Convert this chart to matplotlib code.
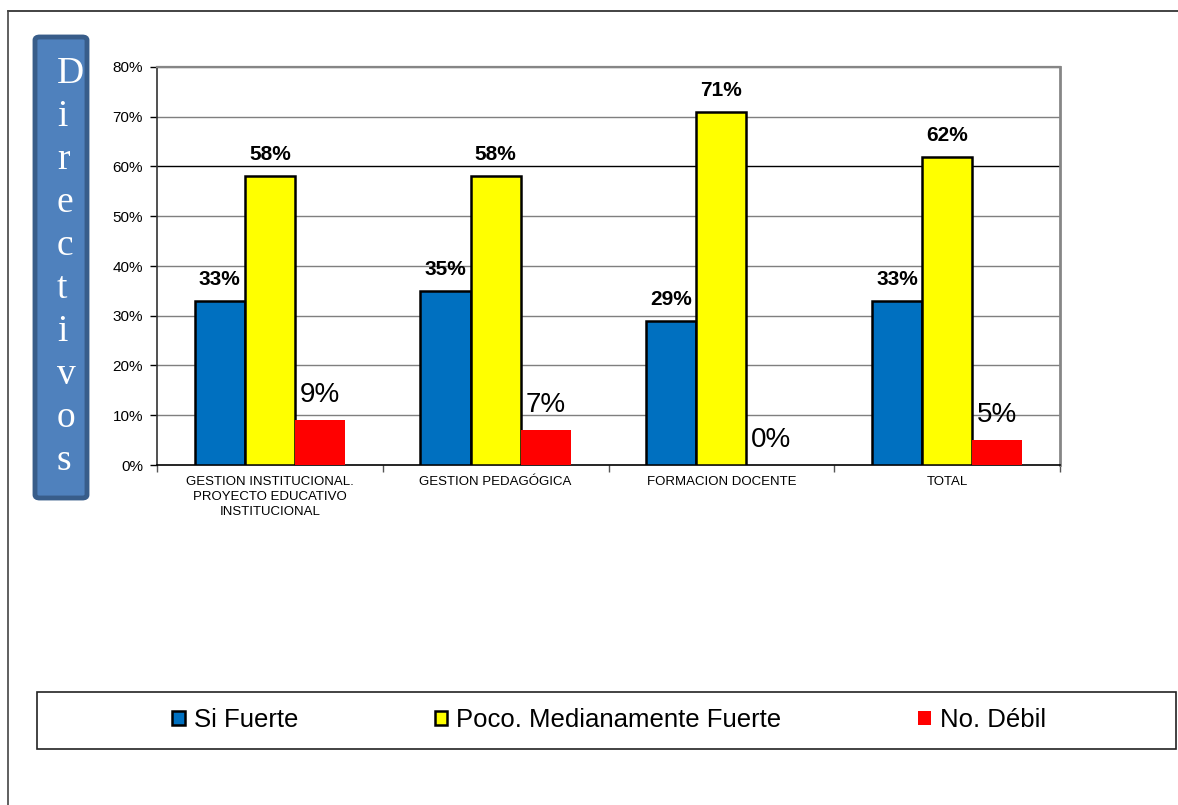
import matplotlib
matplotlib.use("Agg")
import matplotlib.pyplot as plt
from matplotlib.patches import Rectangle, FancyBboxPatch
from matplotlib.lines import Line2D
import numpy as np

categories = ["GESTION INSTITUCIONAL.\nPROYECTO EDUCATIVO\nINSTITUCIONAL",
              "GESTION PEDAGÓGICA", "FORMACION DOCENTE", "TOTAL"]
si_fuerte = [0.33, 0.35, 0.29, 0.33]
poco_medianamente = [0.58, 0.58, 0.71, 0.62]
no_debil = [0.09, 0.07, 0.00, 0.05]
series_names = ["Si Fuerte", "Poco. Medianamente Fuerte", "No. Débil"]
side_title = "Directivos"
y_ticks = [0.0, 0.1, 0.2, 0.3, 0.4, 0.5, 0.6, 0.7, 0.8]

plt.rcParams['font.family'] = ['Liberation Sans', 'DejaVu Sans']

W, H = 1178, 805
fig = plt.figure(figsize=(W / 100, H / 100), dpi=100)

def fx(px):
    return px / W

def fy(py):
    return 1 - py / H

ax = fig.add_axes([fx(157), fy(465), fx(1060) - fx(157), fy(67) - fy(465)])

x = np.arange(len(categories))
w = 0.222
colors = ["#0070C0", "#FFFF00", "#FF0000"]
b1 = ax.bar(x - w, si_fuerte, w, color=colors[0], edgecolor="black", linewidth=1.8,
            label=series_names[0], zorder=3)
b2 = ax.bar(x, poco_medianamente, w, color=colors[1], edgecolor="black", linewidth=1.8,
            label=series_names[1], zorder=3)
b3 = ax.bar(x + w, no_debil, w, color=colors[2], edgecolor="none", linewidth=0,
            label=series_names[2], zorder=3)

for bars, vals in ((b1, si_fuerte), (b2, poco_medianamente)):
    for r, v in zip(bars, vals):
        ax.annotate(f"{v:.0%}", (r.get_x() + r.get_width() / 2, v),
                    xytext=(0, 11.5), textcoords="offset points",
                    ha="center", va="baseline", fontsize=15, fontweight="bold",
                    color="black", zorder=5)
for r, v in zip(b3, no_debil):
    ax.annotate(f"{v:.0%}", (r.get_x() + r.get_width() / 2, v),
                xytext=(0, 13), textcoords="offset points",
                ha="center", va="baseline", fontsize=20, color="black", zorder=5)

ax.set_xlim(-0.5, len(categories) - 0.5)
ax.set_ylim(0, 0.8)
ax.set_yticks(y_ticks)
ax.set_yticklabels([f"{t:.0%}" for t in y_ticks], fontsize=11)
ax.tick_params(axis="y", direction="out", length=5, width=1, pad=5, colors="black")

ax.set_xticks(x)
ax.set_xticklabels(categories, fontsize=9.5, linespacing=1.3)
ax.tick_params(axis="x", which="major", length=0, pad=8)
ax.set_xticks(np.arange(-0.5, len(categories)), minor=True)
ax.tick_params(axis="x", which="minor", direction="out", length=5, width=1, color="#555555")

for t in y_ticks[1:]:
    ax.axhline(t, color="black" if abs(t - 0.6) < 1e-9 else "#7F7F7F",
               linewidth=1.0, zorder=1)

ax.spines["left"].set_color("#333333")
ax.spines["left"].set_linewidth(1.2)
ax.spines["bottom"].set_color("black")
ax.spines["bottom"].set_linewidth(1.2)
ax.spines["top"].set_color("#868686")
ax.spines["top"].set_linewidth(1.6)
ax.spines["right"].set_color("#868686")
ax.spines["right"].set_linewidth(2.0)

# outer frame (top & left edges visible)
fig.add_artist(Line2D([fx(8), 1.0], [fy(11), fy(11)], color="#222222", linewidth=1.2))
fig.add_artist(Line2D([fx(8), fx(8)], [fy(11), 0.0], color="#444444", linewidth=1.2))

# side title box
box = FancyBboxPatch((fx(35), fy(498)), fx(87) - fx(35), fy(37) - fy(498),
                     boxstyle="round,pad=0,rounding_size=0.004",
                     transform=fig.transFigure, facecolor="#4F81BD",
                     edgecolor="#385D8A", linewidth=3.5)
fig.add_artist(box)
for i, ch in enumerate(side_title):
    fig.text(fx(57), fy(83 + 43 * i), ch, fontsize=27, color="white",
             family=["Liberation Serif", "DejaVu Serif"], ha="left", va="baseline")

# legend frame
fig.add_artist(Rectangle((fx(37), fy(749)), fx(1176) - fx(37), fy(692) - fy(749),
                         transform=fig.transFigure, facecolor="white",
                         edgecolor="#222222", linewidth=1.2))
fig.legend(handles=[b1, b2, b3], labels=series_names, loc="center",
           bbox_to_anchor=(fx(609), fy(720)), ncol=3, frameon=False,
           fontsize=18.5, handlelength=0.5, handleheight=0.5,
           handletextpad=0.35, columnspacing=5.3, borderpad=0)

fig.savefig("out.png", dpi=100)
